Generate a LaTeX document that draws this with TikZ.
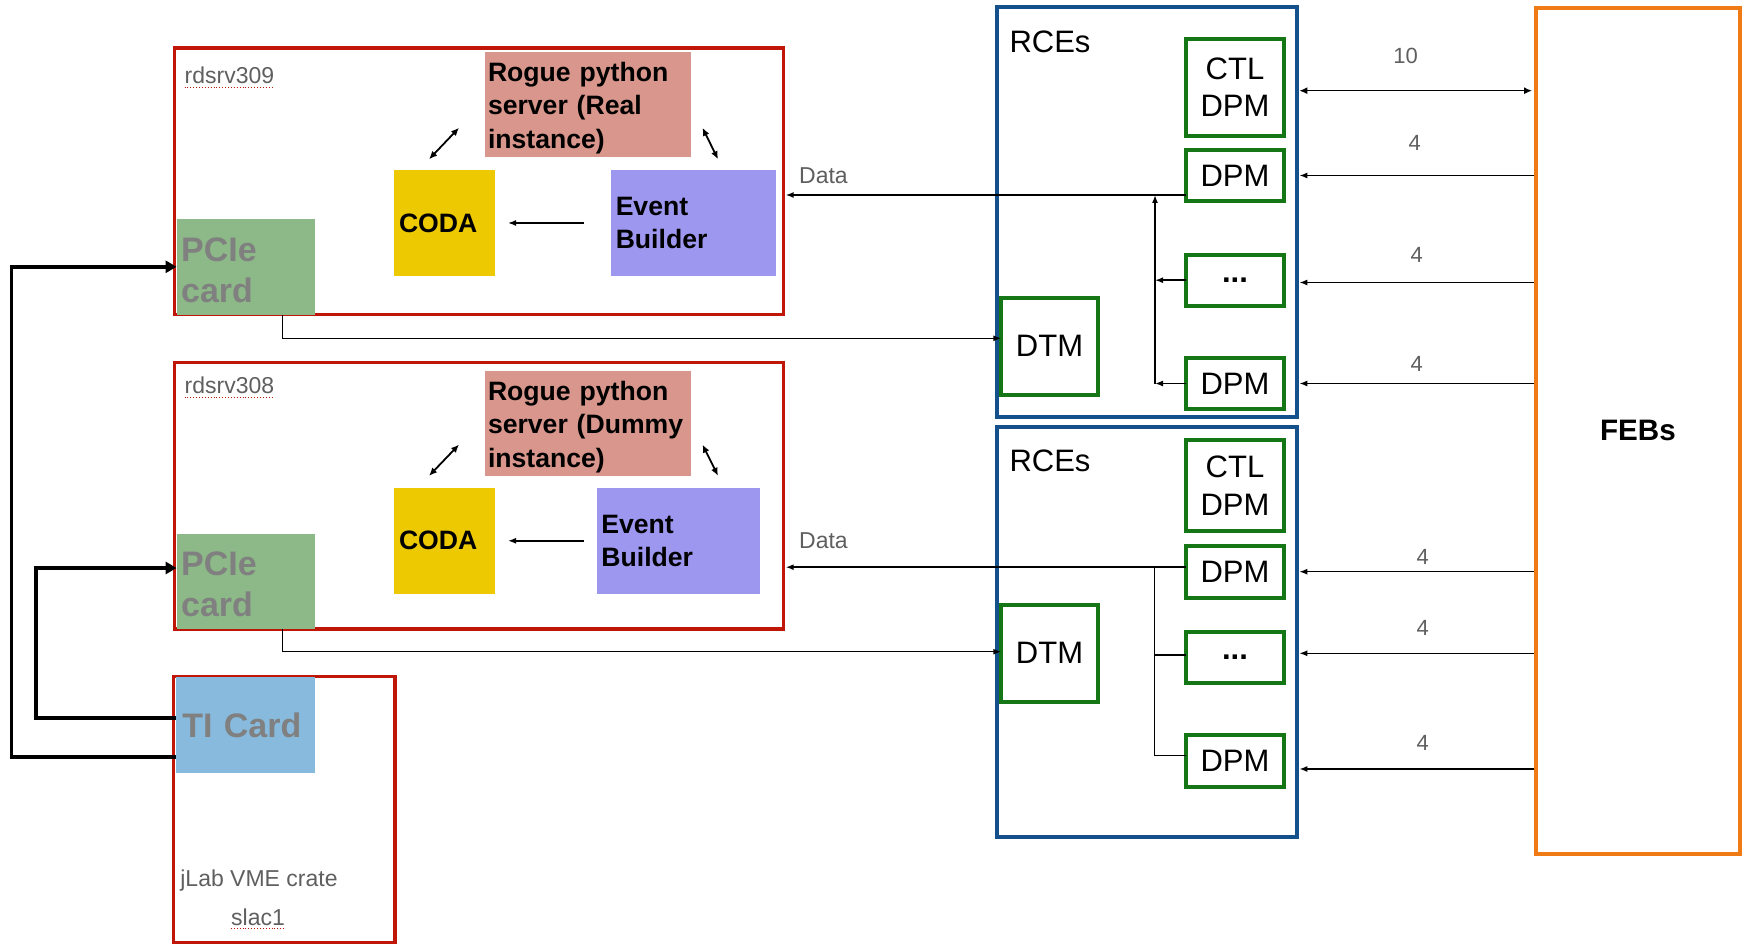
\documentclass[tikz,border=0pt]{standalone}
\usepackage{fontspec}
\setmainfont{Liberation Sans}
\usepackage{tikz}
\usetikzlibrary{arrows.meta,calc}

\definecolor{srvred}{RGB}{192,22,8}
\definecolor{roguepink}{RGB}{216,150,140}
\definecolor{codayellow}{RGB}{236,201,0}
\definecolor{evblue}{RGB}{157,151,240}
\definecolor{pciegreen}{RGB}{140,185,135}
\definecolor{tiblue}{RGB}{135,186,220}
\definecolor{rceblue}{RGB}{20,80,140}
\definecolor{dpmgreen}{RGB}{20,118,20}
\definecolor{feborange}{RGB}{240,122,20}
\definecolor{cardgray}{RGB}{128,128,128}
\definecolor{labelgray}{RGB}{95,95,95}

\tikzset{
  srvbox/.style={draw=srvred, line width=3.5pt, inner sep=0pt, outer sep=0pt},
  rcebox/.style={draw=rceblue, line width=4pt, inner sep=0pt, outer sep=0pt},
  swbox/.style={inner xsep=4pt, inner ysep=0pt, outer sep=0pt, align=left, font=\bfseries\fontsize{26.6}{33.5}\selectfont},
  cardbox/.style={inner xsep=4.5pt, inner ysep=0pt, outer sep=0pt, align=left, text=cardgray, font=\bfseries\fontsize{34}{41}\selectfont},
  modbox/.style={draw=dpmgreen, line width=4pt, inner sep=0pt, outer sep=0pt, align=center, font=\fontsize{31}{37.5}\selectfont},
  hostlbl/.style={inner sep=0pt, text=labelgray, font=\fontsize{23}{27}\selectfont},
  numlbl/.style={inner sep=0pt, text=labelgray, font=\fontsize{22}{26}\selectfont},
  spellmark/.style={draw=srvred, line width=0.9pt, dotted},
  thinarr/.style={line width=1.5pt, -{Latex[length=8pt,width=6pt]}},
  botharr/.style={line width=1.8pt, {Latex[length=8pt,width=7pt]}-{Latex[length=8pt,width=7pt]}},
  triggerline/.style={line width=3.5pt, -{Triangle[length=11pt,width=12pt]}}
}

\begin{document}
\begin{tikzpicture}[x=1pt, y=-1pt]
\useasboundingbox (0,0) rectangle (1743,944);

\node[srvbox, minimum width=609.2pt, minimum height=266.8pt] (srvA) at (479.1,181.2) {};
\node[srvbox, minimum width=609.2pt, minimum height=266.8pt] (srvB) at (479.1,495.8) {};
\node[srvbox, minimum width=221.7pt, minimum height=266pt] (crate) at (284.2,809.7) {};

\node[swbox, fill=roguepink, inner xsep=3pt, text width=200.4pt, minimum height=104.8pt] (rogueA) at (588.2,104.5) {\rule{0pt}{26pt}Rogue python\\server (Real\\instance)};
\node[swbox, fill=codayellow, inner xsep=5.5pt, text width=90.2pt, minimum height=105.6pt] (codaA) at (444.1,223) {CODA};
\node[swbox, fill=evblue, inner xsep=4.4pt, text width=155.7pt, minimum height=105.6pt] (evA) at (693.6,223) {Event\\Builder};
\node[cardbox, fill=pciegreen, text width=129pt, minimum height=95.6pt] (pcieA) at (245.6,266.8) {\rule{0pt}{30pt}PCIe\\card};

\node[swbox, fill=roguepink, inner xsep=3pt, text width=200.4pt, minimum height=104.8pt] (rogueB) at (588.2,423.4) {\rule{0pt}{26pt}Rogue python\\server (Dummy\\instance)};
\node[swbox, fill=codayellow, inner xsep=5.5pt, text width=90.2pt, minimum height=105.6pt] (codaB) at (444.1,540.8) {CODA};
\node[swbox, fill=evblue, inner xsep=4.4pt, text width=154.6pt, minimum height=105.6pt] (evB) at (678.7,540.8) {Event\\Builder};
\node[cardbox, fill=pciegreen, text width=129pt, minimum height=95.6pt] (pcieB) at (245.6,581.4) {\rule{0pt}{30pt}PCIe\\card};

\node[cardbox, fill=tiblue, inner xsep=6.3pt, text width=126.4pt, minimum height=95.7pt] (tiCard) at (245.5,724.9) {TI Card};

\node[hostlbl, anchor=west] (hostA) at (184.5,75.6) {rdsrv309};
\node[hostlbl, anchor=west] (hostB) at (184.5,385.7) {rdsrv308};
\node[hostlbl] (crateLbl) at (259,880.4) {jLab VME crate};
\node[hostlbl] (slacLbl) at (258,917) {slac1};
\draw[spellmark] ($(hostA.south west)+(0,3)$) -- ($(hostA.south east)+(0,3)$);
\draw[spellmark] ($(hostB.south west)+(0,3)$) -- ($(hostB.south east)+(0,3)$);
\draw[spellmark] ($(slacLbl.south west)+(0,3)$) -- ($(slacLbl.south east)+(0,3)$);

\node[rcebox, minimum width=300pt, minimum height=409.4pt] (rceA) at (1147.3,212) {};
\node[rcebox, minimum width=300pt, minimum height=409.4pt] (rceB) at (1147.3,632) {};
\node[inner sep=0pt, anchor=west, font=\fontsize{31}{37.5}\selectfont] (rceLblA) at (1009.3,42.2) {RCEs};
\node[inner sep=0pt, anchor=west, font=\fontsize{31}{37.5}\selectfont] (rceLblB) at (1009.3,461.3) {RCEs};

\node[modbox, minimum width=98pt, minimum height=96.6pt] (ctlA) at (1235,87.3) {CTL\\DPM};
\node[modbox, minimum width=98pt, minimum height=51pt] (dpmA1) at (1235,175.5) {DPM};
\node[modbox, minimum width=98pt, minimum height=51pt] (dotsA) at (1235,280.2) {\textbf{...}};
\node[modbox, minimum width=98pt, minimum height=51pt] (dpmA3) at (1235,383.5) {DPM};
\node[modbox, minimum width=96.4pt, minimum height=96.6pt] (dtmA) at (1049.5,346.3) {DTM};

\node[modbox, minimum width=98pt, minimum height=91pt] (ctlB) at (1235,485.5) {CTL\\DPM};
\node[modbox, minimum width=98pt, minimum height=52pt] (dpmB1) at (1235,572.2) {DPM};
\node[modbox, minimum width=98pt, minimum height=51pt] (dotsB) at (1235,657) {\textbf{...}};
\node[modbox, minimum width=98pt, minimum height=52pt] (dpmB3) at (1235,760.5) {DPM};
\node[modbox, minimum width=96.4pt, minimum height=96.7pt] (dtmB) at (1049.5,653.3) {DTM};

\node[draw=feborange, line width=4pt, inner sep=0pt, minimum width=203.7pt, minimum height=845.9pt, font=\bfseries\fontsize{29.6}{35}\selectfont] (febs) at (1637.9,430.8) {FEBs};

\draw[botharr] ($(codaA.north)+(-15,-11)$) -- ($(rogueA.west)+(-26,23.3)$);
\draw[botharr] ($(rogueA.east)+(11.1,23.3)$) -- ($(evA.north)+(24.4,-11)$);
\draw[thinarr, shorten <=27.8pt, shorten >=13.3pt] (evA.west) -- (codaA.east);
\draw[botharr] ($(codaB.north)+(-15,-12.2)$) -- ($(rogueB.west)+(-26,21.2)$);
\draw[botharr] ($(rogueB.east)+(11.1,21.2)$) -- ($(evB.north)+(39.3,-12.2)$);
\draw[thinarr, shorten <=13.4pt, shorten >=13.3pt] (evB.west) -- (codaB.east);

\coordinate (dataA) at ($(dpmA1.south west)+(0,-6)$);
\coordinate (busA) at (1155,0);
\draw[thinarr] (dataA) -- ($(dataA -| srvA.east)+(2,0)$);
\node[hostlbl, anchor=west] (dataLblA) at (799,175.6) {Data};
\draw[thinarr] (busA |- dpmA3) -- (busA |- dataA);
\draw[thinarr] (dotsA.west) -- (busA |- dotsA);
\draw[thinarr] (dpmA3.west) -- (busA |- dpmA3);

\coordinate (dataB) at ($(dpmB1.west)+(0,-5)$);
\coordinate (busB) at (1154.5,0);
\draw[thinarr] (dataB) -- ($(dataB -| srvB.east)+(2,0)$);
\node[hostlbl, anchor=west] (dataLblB) at (799,540.3) {Data};
\draw[line width=1.5pt] (busB |- dataB) -- ($(busB |- dpmB3)+(0,-4.8)$) -- ($(dpmB3.west)+(0,-4.8)$);
\draw[line width=1.5pt] ($(busB |- dotsB)+(0,-2)$) -- ($(dotsB.west)+(0,-2)$);

\draw[thinarr] ($(pcieA.south)+(36.7,0)$) |- ($(dtmA.west)+(0,-8)$);
\draw[thinarr] ($(pcieB.south)+(36.7,0)$) |- ($(dtmB.west)+(0,-1.6)$);

\draw[triggerline] ($(tiCard.west)+(0,32)$) -- ++(-164.3,0) |- (pcieA.west);
\draw[triggerline] ($(tiCard.west)+(0,-6.9)$) -- ++(-140,0) |- ($(pcieB.west)+(0,-13.4)$);

\draw[botharr, line width=1.5pt] ($(rceA.east |- ctlA)+(2,3.4)$) -- ($(febs.west |- ctlA)+(-2,3.4)$) node[numlbl, midway, xshift=-10pt, yshift=35pt] {10};
\draw[thinarr] (febs.west |- dpmA1) -- ($(rceA.east |- dpmA1)+(2,0)$) node[numlbl, midway, xshift=-2pt, yshift=33pt] {4};
\draw[thinarr] ($(febs.west |- dotsA)+(0,2.3)$) -- ($(rceA.east |- dotsA)+(2,2.3)$) node[numlbl, midway, yshift=28pt] {4};
\draw[thinarr] (febs.west |- dpmA3) -- ($(rceA.east |- dpmA3)+(2,0)$) node[numlbl, midway, yshift=20pt] {4};
\draw[thinarr] ($(febs.west |- dpmB1)+(0,-0.5)$) -- ($(rceB.east |- dpmB1)+(2,-0.5)$) node[numlbl, midway, xshift=6pt, yshift=15pt] {4};
\draw[thinarr] ($(febs.west |- dotsB)+(0,-3.7)$) -- ($(rceB.east |- dotsB)+(2,-3.7)$) node[numlbl, midway, xshift=6pt, yshift=25pt] {4};
\draw[thinarr] ($(febs.west |- dpmB3)+(0,8.5)$) -- ($(rceB.east |- dpmB3)+(2,8.5)$) node[numlbl, midway, xshift=6pt, yshift=26pt] {4};
\end{tikzpicture}
\end{document}
